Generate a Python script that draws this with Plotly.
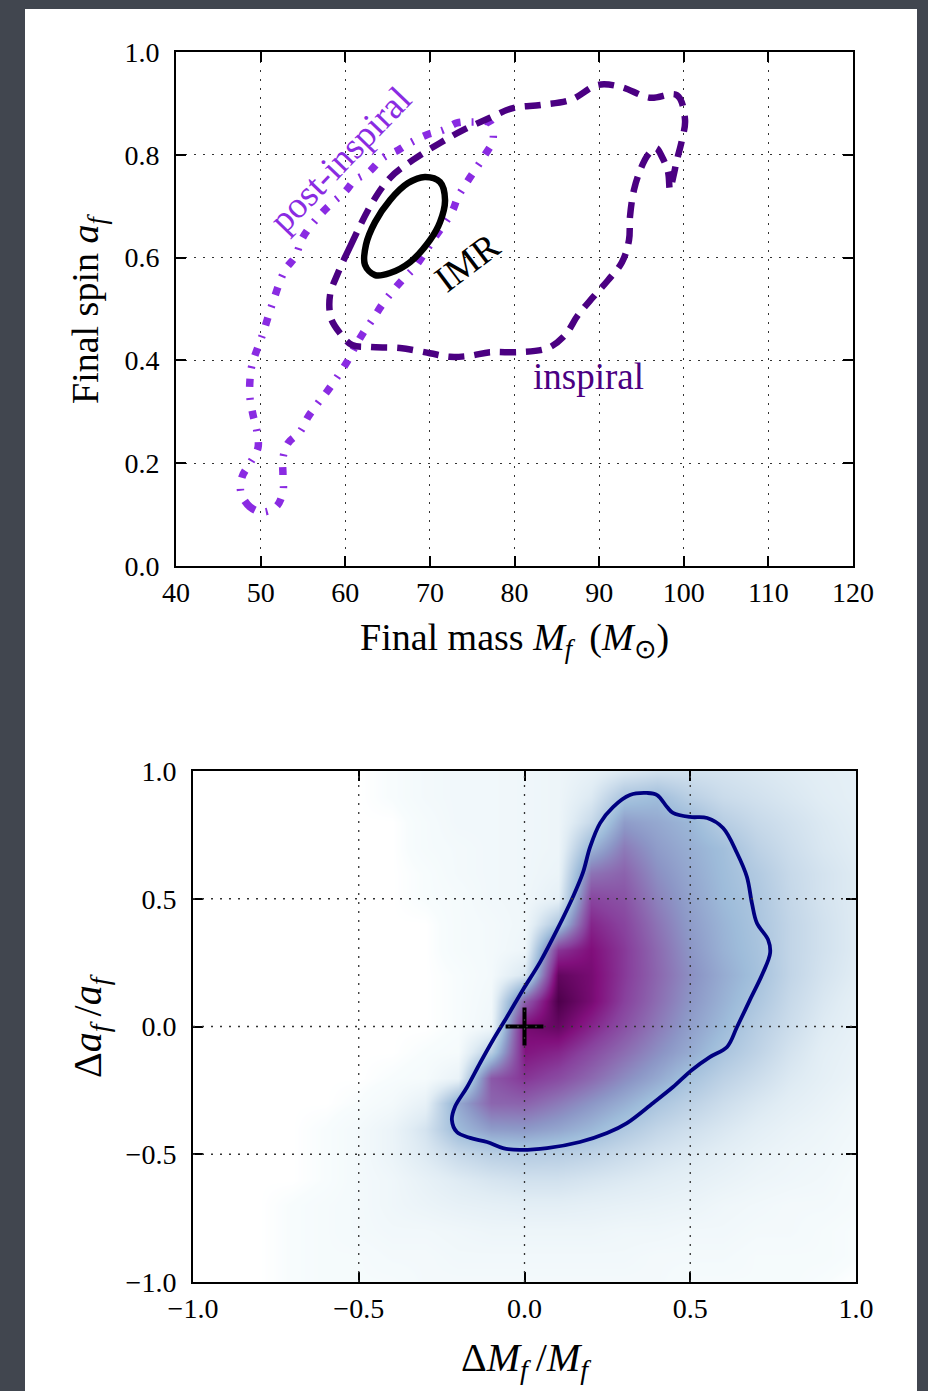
import plotly.graph_objects as go

W, H = 928, 1391

# ---------------- top panel: final mass / final spin contours ----------------
mass_ticks = [40, 50, 60, 70, 80, 90, 100, 110, 120]
mass_ticktext = ["40", "50", "60", "70", "80", "90", "100", "110", "120"]
spin_ticks = [0.0, 0.2, 0.4, 0.6, 0.8, 1.0]
spin_ticktext = ["0.0", "0.2", "0.4", "0.6", "0.8", "1.0"]

imr_mass = [69.42, 71.20, 71.79, 71.20, 70.01, 67.65, 65.29, 63.52, 62.33, 62.45, 63.52, 65.29, 67.42, 69.42]
imr_spin = [0.757, 0.747, 0.712, 0.669, 0.634, 0.591, 0.570, 0.566, 0.586, 0.625, 0.669, 0.712, 0.745, 0.757]

insp_mass = [59.14, 60.56, 63.16, 65.29, 68.01, 71.20, 73.91, 77.10, 79.82, 83.13, 86.68, 89.87, 92.58,
             96.01, 99.20, 100.15, 99.79, 99.20, 98.73, 98.37, 98.14, 97.43, 96.72, 95.78, 94.95, 94.12,
             93.65, 93.53, 92.70, 91.05, 89.28, 87.50, 85.97, 83.96, 80.65, 77.10, 74.74, 72.38, 70.01,
             66.47, 62.92, 60.80, 59.38, 58.32, 58.20, 59.14]
insp_spin = [0.570, 0.621, 0.706, 0.755, 0.790, 0.823, 0.848, 0.872, 0.891, 0.897, 0.907, 0.936, 0.932,
             0.911, 0.916, 0.868, 0.829, 0.790, 0.755, 0.732, 0.767, 0.796, 0.813, 0.800, 0.774, 0.732,
             0.680, 0.634, 0.591, 0.556, 0.523, 0.488, 0.449, 0.424, 0.416, 0.416, 0.409, 0.407, 0.414,
             0.424, 0.426, 0.430, 0.453, 0.482, 0.527, 0.570]

post_mass = [50.16, 48.74, 47.68, 47.80, 48.74, 49.69, 49.57, 49.10, 48.74, 48.74, 48.98, 50.28, 51.46,
             52.88, 54.06, 55.01, 57.02, 58.55, 59.97, 61.15, 62.69, 64.46, 66.23, 67.65, 69.66, 71.55,
             73.21, 75.10, 77.10, 77.46, 76.51, 75.57, 74.39, 73.32, 72.61, 70.37, 68.24, 66.71, 65.52,
             64.34, 63.28, 62.10, 61.15, 60.21, 59.14, 57.96, 56.78, 55.60, 54.65, 53.23, 52.64, 52.64,
             52.64, 51.82, 50.16]
post_spin = [0.105, 0.115, 0.142, 0.173, 0.200, 0.230, 0.261, 0.294, 0.327, 0.362, 0.391, 0.453, 0.514,
             0.576, 0.601, 0.640, 0.683, 0.708, 0.728, 0.751, 0.765, 0.794, 0.809, 0.823, 0.839, 0.848,
             0.862, 0.864, 0.862, 0.829, 0.800, 0.776, 0.747, 0.718, 0.689, 0.634, 0.582, 0.556, 0.533,
             0.508, 0.481, 0.453, 0.426, 0.397, 0.370, 0.342, 0.317, 0.290, 0.261, 0.239, 0.210, 0.177,
             0.144, 0.115, 0.105]

label_text = ["post-inspiral", "IMR", "inspiral"]
label_mass = [59.38, 74.39, 88.69]
label_spin = [0.790, 0.591, 0.368]
label_angle = [-46, -37, 0]

# ---------------- bottom panel: fractional deviations ----------------
dev_ticks = [-1.0, -0.5, 0.0, 0.5, 1.0]
dev_ticktext = ["\u22121.0", "\u22120.5", "0.0", "0.5", "1.0"]

hm_x = [-1.0, -0.9, -0.8, -0.7, -0.6, -0.5, -0.4, -0.3, -0.2, -0.1, 0.0,
        0.1, 0.2, 0.3, 0.4, 0.5, 0.6, 0.7, 0.8, 0.9, 1.0]
hm_y_top_down = [1.0, 0.9, 0.8, 0.7, 0.6, 0.5, 0.4, 0.3, 0.2, 0.1, 0.0,
                 -0.1, -0.2, -0.3, -0.4, -0.5, -0.6, -0.7, -0.8, -0.9, -1.0]
hm_z_top_down = [
    [0, 0, 0, 0, 0, 0, 0.01, 0.03, 0.04, 0.04, 0.05, 0.06, 0.09, 0.14, 0.18, 0.18, 0.17, 0.15, 0.13, 0.11, 0.10],
    [0, 0, 0, 0, 0, 0, 0.01, 0.03, 0.04, 0.04, 0.05, 0.06, 0.14, 0.33, 0.37, 0.27, 0.21, 0.18, 0.15, 0.12, 0.10],
    [0, 0, 0, 0, 0, 0, 0.00, 0.02, 0.04, 0.04, 0.05, 0.06, 0.22, 0.48, 0.44, 0.39, 0.28, 0.22, 0.18, 0.14, 0.11],
    [0, 0, 0, 0, 0, 0, 0.00, 0.02, 0.03, 0.04, 0.05, 0.06, 0.40, 0.58, 0.48, 0.42, 0.36, 0.26, 0.20, 0.15, 0.12],
    [0, 0, 0, 0, 0, 0, 0.00, 0.01, 0.03, 0.04, 0.05, 0.07, 0.60, 0.65, 0.52, 0.44, 0.37, 0.30, 0.22, 0.17, 0.13],
    [0, 0, 0, 0, 0, 0, 0.00, 0.01, 0.02, 0.04, 0.05, 0.10, 0.74, 0.70, 0.56, 0.46, 0.38, 0.32, 0.23, 0.17, 0.13],
    [0, 0, 0, 0, 0, 0, 0.00, 0.00, 0.02, 0.03, 0.05, 0.32, 0.82, 0.74, 0.60, 0.48, 0.40, 0.33, 0.24, 0.18, 0.13],
    [0, 0, 0, 0, 0, 0, 0.00, 0.00, 0.02, 0.03, 0.06, 0.78, 0.88, 0.77, 0.63, 0.50, 0.41, 0.34, 0.24, 0.18, 0.13],
    [0, 0, 0, 0, 0, 0, 0.00, 0.00, 0.01, 0.03, 0.16, 0.95, 0.90, 0.77, 0.64, 0.52, 0.43, 0.35, 0.24, 0.17, 0.12],
    [0, 0, 0, 0, 0, 0, 0.00, 0.00, 0.01, 0.04, 0.66, 1.00, 0.90, 0.75, 0.62, 0.50, 0.41, 0.32, 0.22, 0.15, 0.10],
    [0, 0, 0, 0, 0, 0, 0.00, 0.00, 0.01, 0.05, 0.90, 0.94, 0.82, 0.70, 0.58, 0.47, 0.38, 0.28, 0.20, 0.13, 0.09],
    [0, 0, 0, 0, 0, 0, 0.00, 0.01, 0.02, 0.28, 0.86, 0.82, 0.72, 0.62, 0.52, 0.43, 0.33, 0.25, 0.17, 0.11, 0.08],
    [0, 0, 0, 0, 0, 0, 0.01, 0.02, 0.08, 0.68, 0.78, 0.72, 0.63, 0.53, 0.44, 0.34, 0.26, 0.20, 0.14, 0.10, 0.07],
    [0, 0, 0, 0, 0, 0.01, 0.03, 0.09, 0.44, 0.64, 0.65, 0.58, 0.50, 0.42, 0.33, 0.26, 0.20, 0.15, 0.11, 0.08, 0.05],
    [0, 0, 0, 0, 0.01, 0.03, 0.07, 0.17, 0.38, 0.48, 0.49, 0.45, 0.39, 0.31, 0.24, 0.19, 0.15, 0.11, 0.08, 0.06, 0.04],
    [0, 0, 0, 0, 0.01, 0.03, 0.07, 0.14, 0.22, 0.27, 0.29, 0.28, 0.25, 0.21, 0.17, 0.14, 0.11, 0.08, 0.06, 0.05, 0.03],
    [0, 0, 0, 0, 0.01, 0.03, 0.05, 0.09, 0.13, 0.16, 0.18, 0.18, 0.16, 0.14, 0.12, 0.10, 0.08, 0.06, 0.05, 0.04, 0.02],
    [0, 0, 0, 0.01, 0.02, 0.03, 0.05, 0.07, 0.09, 0.10, 0.11, 0.11, 0.10, 0.09, 0.08, 0.07, 0.05, 0.04, 0.03, 0.03, 0.02],
    [0, 0, 0, 0.01, 0.02, 0.03, 0.04, 0.04, 0.05, 0.06, 0.06, 0.06, 0.06, 0.05, 0.05, 0.04, 0.04, 0.03, 0.03, 0.02, 0.01],
    [0, 0, 0, 0.01, 0.02, 0.02, 0.03, 0.03, 0.04, 0.04, 0.04, 0.04, 0.04, 0.04, 0.03, 0.03, 0.03, 0.02, 0.02, 0.02, 0.01],
    [0, 0, 0, 0.01, 0.02, 0.02, 0.02, 0.03, 0.03, 0.03, 0.03, 0.03, 0.03, 0.03, 0.03, 0.02, 0.02, 0.02, 0.02, 0.01, 0.00],
]

cont_dm = [0.370, 0.400, 0.430, 0.448, 0.499, 0.551, 0.599, 0.641, 0.671, 0.686, 0.701, 0.735, 0.741,
           0.719, 0.680, 0.641, 0.611, 0.560, 0.505, 0.448, 0.388, 0.309, 0.249, 0.167, 0.068, -0.014,
           -0.065, -0.113, -0.164, -0.204, -0.219, -0.210, -0.173, -0.134, -0.095, -0.053, -0.005,
           0.047, 0.098, 0.146, 0.176, 0.198, 0.228, 0.267, 0.318, 0.370]
cont_da = [0.914, 0.906, 0.859, 0.836, 0.820, 0.816, 0.777, 0.679, 0.585, 0.483, 0.405, 0.339, 0.288,
           0.209, 0.104, -0.002, -0.080, -0.119, -0.170, -0.237, -0.299, -0.378, -0.417, -0.452, -0.476,
           -0.483, -0.476, -0.452, -0.436, -0.413, -0.366, -0.315, -0.237, -0.143, -0.053, 0.037, 0.143,
           0.252, 0.378, 0.507, 0.601, 0.703, 0.796, 0.859, 0.906, 0.914]

gr_dm = [0.0]
gr_da = [0.0]

# ---------------- styling ----------------
SERIF = "Liberation Serif"
INDIGO = "#4b0082"
VIOLET = "#8a2be2"
GRID = "#333333"
GRIDDASH = "2px,7px"

bupu = [[0.0, "#ffffff"], [0.01, "#f7fcfd"], [0.125, "#e0ecf4"], [0.25, "#bfd3e6"],
        [0.375, "#9ebcda"], [0.5, "#8c96c6"], [0.625, "#8c6bb1"], [0.75, "#88419d"],
        [0.875, "#810f7c"], [1.0, "#4d004b"]]

fig = go.Figure()

# top panel traces
fig.add_trace(go.Scatter(x=post_mass, y=post_spin, mode="lines", line_shape="spline",
                         line=dict(color=VIOLET, width=7.5, dash="8px,11px,2px,11px"),
                         xaxis="x", yaxis="y", showlegend=False, hoverinfo="skip"))
fig.add_trace(go.Scatter(x=insp_mass, y=insp_spin, mode="lines", line_shape="spline",
                         line=dict(color=INDIGO, width=6.5, dash="16px,10px"),
                         xaxis="x", yaxis="y", showlegend=False, hoverinfo="skip"))
fig.add_trace(go.Scatter(x=imr_mass, y=imr_spin, mode="lines", line_shape="spline",
                         line=dict(color="black", width=6.5),
                         xaxis="x", yaxis="y", showlegend=False, hoverinfo="skip"))

# bottom panel traces
fig.add_trace(go.Heatmap(x=hm_x, y=hm_y_top_down[::-1], z=hm_z_top_down[::-1],
                         zsmooth="best", colorscale=bupu, zmin=0, zmax=1, showscale=False,
                         xaxis="x2", yaxis="y2", hoverinfo="skip"))
fig.add_trace(go.Scatter(x=cont_dm, y=cont_da, mode="lines", line_shape="spline",
                         line=dict(color="#000080", width=3.8),
                         xaxis="x2", yaxis="y2", showlegend=False, hoverinfo="skip"))
fig.add_trace(go.Scatter(x=gr_dm, y=gr_da, mode="markers",
                         marker=dict(symbol="cross-thin", size=27, color="black",
                                     line=dict(color="black", width=4)),
                         xaxis="x2", yaxis="y2", showlegend=False, hoverinfo="skip"))

axis_common = dict(showline=True, linecolor="black", linewidth=2, mirror="ticks",
                   ticks="inside", ticklen=10, tickwidth=1.5, tickcolor="black",
                   tickfont=dict(family=SERIF, size=28, color="black"),
                   zeroline=False, automargin=False)

fig.update_layout(
    width=W, height=H,
    autosize=False,
    margin=dict(l=0, r=0, t=0, b=0, pad=0, autoexpand=False),
    paper_bgcolor="#41464f",
    plot_bgcolor="white",
    xaxis=dict(domain=[176 / W, 853 / W], range=[40, 120], anchor="y",
               tickvals=mass_ticks, ticktext=mass_ticktext, ticklabelstandoff=0,
               showgrid=True, gridcolor=GRID, gridwidth=1.3, griddash=GRIDDASH, **axis_common),
    yaxis=dict(domain=[1 - 566 / H, 1 - 52 / H], range=[0, 1], anchor="x",
               tickvals=spin_ticks, ticktext=spin_ticktext, ticklabelstandoff=9,
               showgrid=True, gridcolor=GRID, gridwidth=1.3, griddash=GRIDDASH, **axis_common),
    xaxis2=dict(domain=[193 / W, 856 / W], range=[-1, 1], anchor="y2",
                tickvals=dev_ticks, ticktext=dev_ticktext, ticklabelstandoff=0,
                showgrid=False, **axis_common),
    yaxis2=dict(domain=[1 - 1282 / H, 1 - 771 / H], range=[-1, 1], anchor="x2",
                tickvals=dev_ticks, ticktext=dev_ticktext, ticklabelstandoff=9,
                showgrid=False, **axis_common),
)

# white slide panel
shapes = [dict(type="rect", xref="paper", yref="paper", x0=25 / W, x1=917 / W, y0=0, y1=1 - 9 / H,
               fillcolor="white", line=dict(width=0), layer="below")]
# dotted grid of bottom panel drawn above the density map
for v in dev_ticks[1:-1]:
    shapes.append(dict(type="line", xref="x2", yref="y2", x0=v, x1=v, y0=-1, y1=1,
                       line=dict(color=GRID, width=1.3, dash=GRIDDASH), layer="above"))
    shapes.append(dict(type="line", xref="x2", yref="y2", x0=-1, x1=1, y0=v, y1=v,
                       line=dict(color=GRID, width=1.3, dash=GRIDDASH), layer="above"))
fig.update_layout(shapes=shapes)

annotations = []
label_colors = [VIOLET, "black", INDIGO]
for t, xm, ys, ang, c in zip(label_text, label_mass, label_spin, label_angle, label_colors):
    annotations.append(dict(x=xm, y=ys, xref="x", yref="y", text=t, showarrow=False,
                            xanchor="center", yanchor="middle",
                            textangle=ang, font=dict(family=SERIF, size=37, color=c)))

title_font = dict(family=SERIF, size=38, color="black")
math_font = dict(family=SERIF, size=40, color="black")
annotations += [
    dict(x=514.5 / W, y=1 - 640 / H, xref="paper", yref="paper", showarrow=False,
         xanchor="center", yanchor="middle",
         text="Final mass <i>M<sub>f</sub></i>\u2009 (<i>M</i><sub>\u2299</sub>)", font=title_font),
    dict(x=88 / W, y=1 - 309 / H, xref="paper", yref="paper", showarrow=False, textangle=-90,
         xanchor="center", yanchor="middle",
         text="Final spin <i>a<sub>f</sub></i>", font=title_font),
    dict(x=90 / W, y=1 - 1026 / H, xref="paper", yref="paper", showarrow=False, textangle=-90,
         xanchor="center", yanchor="middle",
         text="\u0394<i>a<sub>f</sub></i>\u2009/<i>a<sub>f</sub></i>", font=math_font),
    dict(x=526 / W, y=1 - 1360 / H, xref="paper", yref="paper", showarrow=False,
         xanchor="center", yanchor="middle",
         text="\u0394<i>M<sub>f</sub></i>\u2009/<i>M<sub>f</sub></i>", font=math_font),
]
fig.update_layout(annotations=annotations)

fig.write_html("out.html")
